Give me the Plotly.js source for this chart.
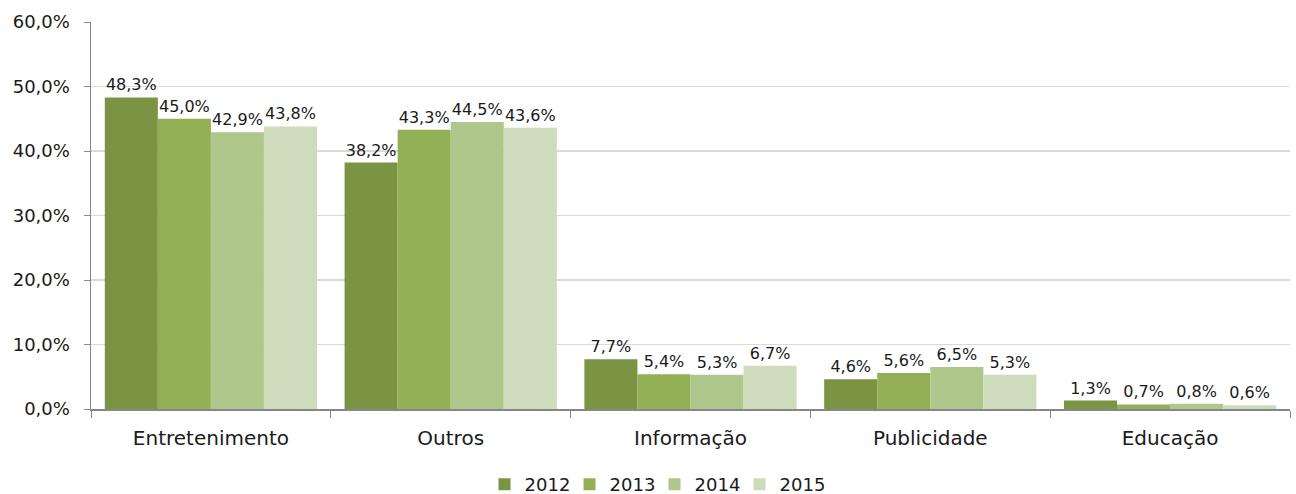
<!DOCTYPE html>
<html><head><meta charset="utf-8">
<script src="https://cdn.plot.ly/plotly-3.0.1.min.js"></script>
<style>body{margin:0;background:#fff}#c{width:1296px;height:494px}</style>
</head><body><div id="c"></div>
<script>
const categories = ["Entretenimento","Outros","Informação","Publicidade","Educação"];
const years = ["2012","2013","2014","2015"];
const v2012 = [0.483,0.382,0.077,0.046,0.013];
const v2013 = [0.450,0.433,0.054,0.056,0.007];
const v2014 = [0.429,0.445,0.053,0.065,0.008];
const v2015 = [0.438,0.436,0.067,0.053,0.006];
const colors = ["#7a9444","#93b057","#afc78a","#cfdcbb"];
const series = [v2012,v2013,v2014,v2015];
const font = "'DejaVu Sans', sans-serif";
const traces = series.map((s,i)=>({
  type:"bar", name:years[i], x:categories, y:s,
  marker:{color:colors[i]},
  text:s, texttemplate:"%{y:.1%}", textposition:"outside", cliponaxis:false,
  textfont:{family:font,size:16,color:"#1a1a1a"}, hoverinfo:"none"
}));
Plotly.newPlot("c", traces, {
  width:1296, height:494, separators:",.",
  margin:{l:91,r:6,t:22,b:85,autoexpand:false},
  barmode:"group", bargap:0.115, bargroupgap:0,
  paper_bgcolor:"#fff", plot_bgcolor:"#fff",
  font:{family:font,color:"#1a1a1a"},
  xaxis:{showgrid:false, showline:true, linecolor:"#868686", linewidth:1.5, automargin:false,
    ticks:"outside", tickson:"boundaries", ticklen:7, tickcolor:"#868686", ticklabelstandoff:10,
    tickfont:{size:20,family:font}},
  yaxis:{range:[0,0.6], dtick:0.1, tickformat:".1%", showgrid:true, gridcolor:"#d9d9d9", gridwidth:1.5,
    showline:true, linecolor:"#868686", linewidth:1.5, ticks:"outside", ticklen:6, tickcolor:"#868686",
    ticklabelstandoff:10, automargin:false, tickfont:{size:18,family:font}, zeroline:false},
  legend:{orientation:"h", x:0.47, xanchor:"center", y:-0.195, yanchor:"middle",
    font:{size:18,family:font}, entrywidth:40, entrywidthmode:"pixels", traceorder:"normal"},
  showlegend:true
}, {staticPlot:true});
</script></body></html>
